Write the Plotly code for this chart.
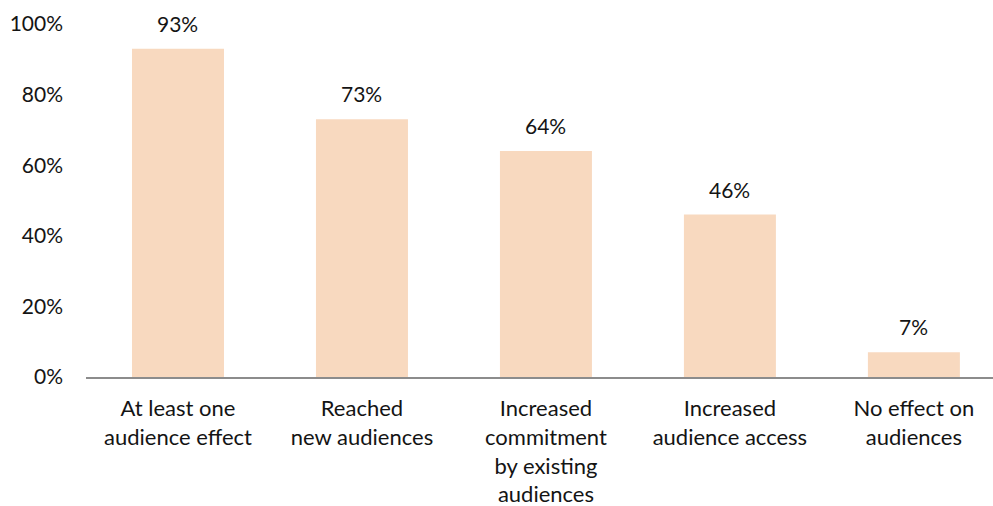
import plotly.graph_objects as go

categories = [
    "At least one<br>audience effect",
    "Reached<br>new audiences",
    "Increased<br>commitment<br>by existing<br>audiences",
    "Increased<br>audience access",
    "No effect on<br>audiences",
]
values = [93, 73, 64, 46, 7]
value_labels = [f"{v}%" for v in values]
y_ticks = [0, 20, 40, 60, 80, 100]
y_tick_labels = [f"{t}%" for t in y_ticks]

FONT = "Lato, 'Open Sans', sans-serif"
TEXT = "#141414"
SIZE = 22

xs = list(range(len(categories)))

fig = go.Figure(
    go.Bar(
        x=xs,
        y=values,
        width=0.5,
        marker=dict(color="#F8D9BF", line=dict(width=0)),
    )
)

# value labels floating above each bar
for x, v, label in zip(xs, values, value_labels):
    fig.add_annotation(
        x=x,
        y=v,
        text=label,
        showarrow=False,
        yanchor="bottom",
        yshift=11,
        font=dict(family=FONT, size=SIZE - 1, color=TEXT),
    )

fig.update_layout(
    width=993,
    height=506,
    margin=dict(l=86, r=0, t=24, b=129),
    paper_bgcolor="white",
    plot_bgcolor="white",
    showlegend=False,
    font=dict(family=FONT, size=SIZE, color=TEXT),
    xaxis=dict(
        tickmode="array",
        tickvals=xs,
        ticktext=categories,
        range=[-0.5, 4.43],
        showline=True,
        linecolor="#8c8c8c",
        linewidth=2,
        showgrid=False,
        ticks="",
        zeroline=False,
        ticklabelstandoff=11,
        tickfont=dict(family=FONT, size=SIZE, color=TEXT),
    ),
    yaxis=dict(
        range=[0, 100],
        tickmode="array",
        tickvals=y_ticks,
        ticktext=y_tick_labels,
        showgrid=False,
        zeroline=False,
        showline=False,
        ticks="",
        ticklabelstandoff=22,
        tickfont=dict(family=FONT, size=SIZE - 1, color=TEXT),
    ),
)

fig.write_html("out.html")
